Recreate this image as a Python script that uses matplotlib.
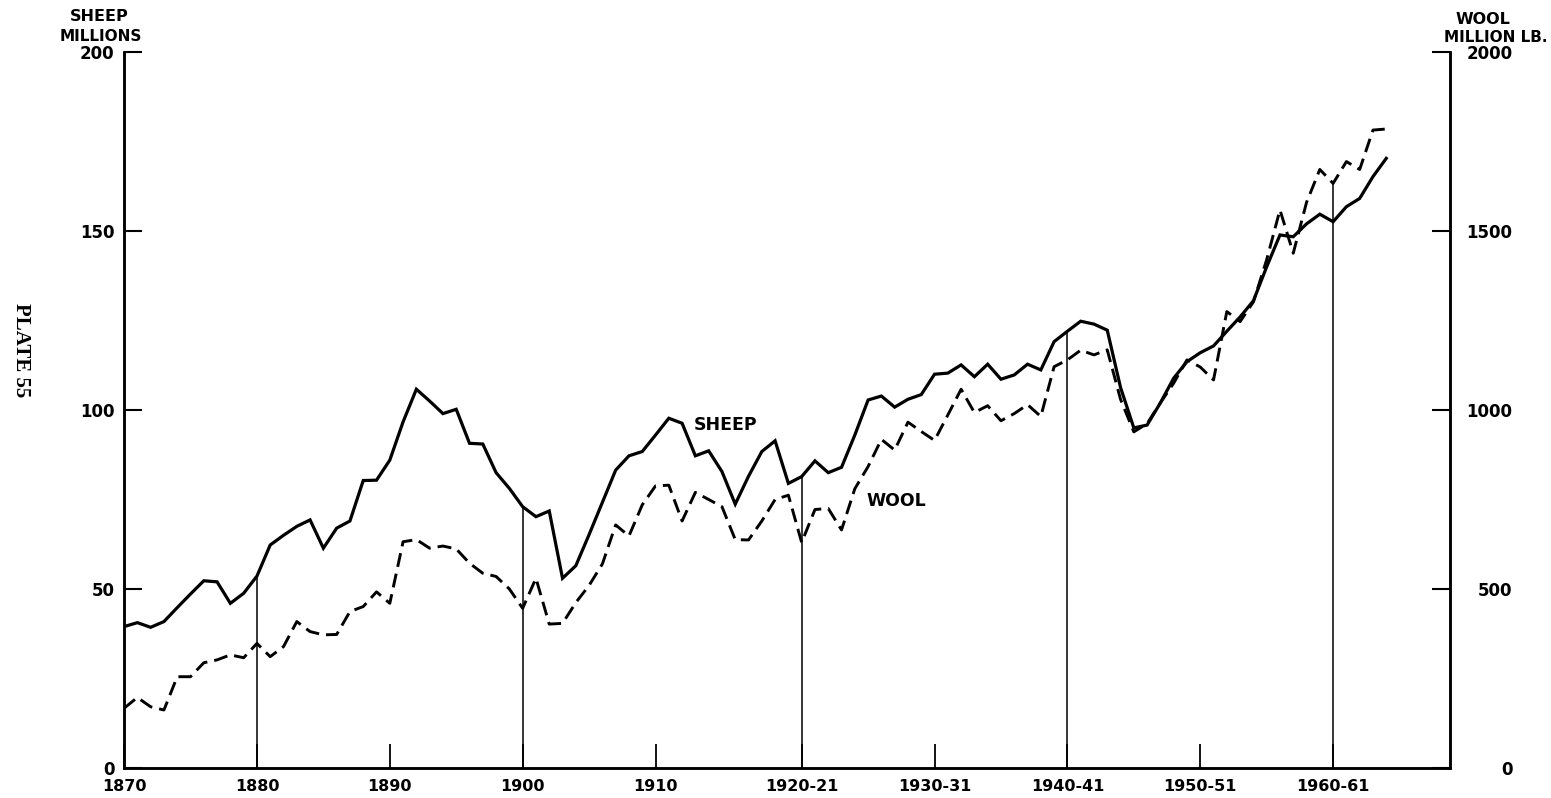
import numpy as np
import matplotlib
matplotlib.use("Agg")
import matplotlib.pyplot as plt

plt.rcParams["font.family"] = "DejaVu Sans"
plt.rcParams["font.weight"] = "bold"

# one slot per year up to 1920, then split years from 1920-21 on
tick_pos = [0, 10, 20, 30, 40, 51, 61, 71, 81, 91]
tick_labels = ["1870", "1880", "1890", "1900", "1910",
               "1920-21", "1930-31", "1940-41", "1950-51", "1960-61"]
ref_lines = [10, 30, 51, 71, 91]

# sheep numbers, millions
sheep = [39.5, 40.6, 39.3, 40.9, 44.8, 48.6, 52.3, 52.0, 46.0, 48.8,
         53.6, 62.3, 65.0, 67.5, 69.3, 61.4, 67.0, 69.0, 80.3, 80.4,
         86.0, 96.7, 105.8, 102.5, 99.0, 100.2, 90.7, 90.5, 82.5, 78.1,
         73.0, 70.2, 71.8, 53.0, 56.5, 65.2, 74.2, 83.2, 87.2, 88.4,
         93.0, 97.7, 96.3, 87.2, 88.6, 82.8, 73.7, 81.5, 88.4, 91.4,
         79.5, 81.4, 85.8, 82.5, 84.0, 93.0, 102.8, 103.9, 100.8, 103.0,
         104.3, 110.0, 110.3, 112.6, 109.3, 112.8, 108.6, 109.8, 112.8, 111.2,
         119.1, 122.0, 124.8, 124.0, 122.3, 106.3, 95.0, 95.8, 102.0, 108.9,
         113.5, 116.0, 117.9, 122.0, 126.0, 130.5, 140.0, 148.9, 148.4, 152.0,
         154.7, 152.6, 156.8, 159.1, 165.2, 170.3]

# wool production, million lb
wool = [167, 197, 171, 162, 255, 255, 294, 302, 316, 308,
        348, 311, 339, 409, 381, 372, 373, 437, 451, 492,
        460, 632, 638, 614, 620, 612, 572, 544, 535, 500,
        446, 530, 402, 404, 462, 510, 570, 679, 648, 735,
        788, 790, 690, 770, 750, 730, 638, 637, 690, 750,
        762, 630, 722, 725, 665, 780, 842, 918, 888, 966,
        940, 915, 986, 1058, 993, 1012, 970, 990, 1015, 982,
        1121, 1140, 1167, 1154, 1168, 1030, 939, 962, 1020, 1075,
        1140, 1120, 1084, 1275, 1247, 1302, 1420, 1559, 1438, 1580,
        1672, 1633, 1694, 1672, 1782, 1785]

x = np.arange(len(sheep))

fig = plt.figure(figsize=(15.51, 7.98), dpi=100)
ax = fig.add_axes([0.0800, 0.0376, 0.8549, 0.8972])
ax2 = ax.twinx()

ax.plot(x, sheep, color="black", lw=2.3, solid_joinstyle="miter")
ax2.plot(x, wool, color="black", lw=2.1, linestyle=(0, (4.8, 2.4)))

# thin guide lines up to the higher of the two curves
tops = [max(sheep[i], wool[i] / 10) for i in ref_lines]
ax.vlines(ref_lines, 0, tops, color="black", lw=1.1)

ax.set_xlim(0, 99.8)
ax.set_ylim(0, 200)
ax2.set_ylim(0, 2000)

for a in (ax, ax2):
    a.spines["top"].set_visible(False)
    for s in ("left", "right", "bottom"):
        a.spines[s].set_linewidth(1.8)

ax.set_xticks(tick_pos)
ax.set_xticklabels(tick_labels)
ax.tick_params(axis="x", direction="in", length=17, width=1.3, pad=8, labelsize=11.5)

ax.set_yticks([0, 50, 100, 150, 200])
ax.tick_params(axis="y", direction="in", length=13, width=1.5, pad=7, labelsize=12)

ax2.set_yticks([0, 500, 1000, 1500, 2000])
ax2.tick_params(axis="y", direction="in", length=13, width=1.5, pad=45, labelsize=12)
for lab in ax2.get_yticklabels():
    lab.set_horizontalalignment("right")

ax.text(45.3, 95.8, "SHEEP", fontsize=12.5, ha="center", va="center")
ax.text(58.1, 74.6, "WOOL", fontsize=12.5, ha="center", va="center")

fig.text(99 / 1551, 1 - 16.5 / 798, "SHEEP", fontsize=11.5, ha="center", va="center")
fig.text(101 / 1551, 1 - 36.5 / 798, "MILLIONS", fontsize=11, ha="center", va="center")
fig.text(1483 / 1551, 1 - 19 / 798, "WOOL", fontsize=11.5, ha="center", va="center")
fig.text(1496 / 1551, 1 - 38 / 798, "MILLION LB.", fontsize=11, ha="center", va="center")

fig.text(21 / 1551, 1 - 350 / 798, "PLATE 55", fontsize=15, rotation=-90,
         family="Liberation Serif", ha="center", va="center")

fig.savefig("out.png", dpi=100, facecolor="white")
